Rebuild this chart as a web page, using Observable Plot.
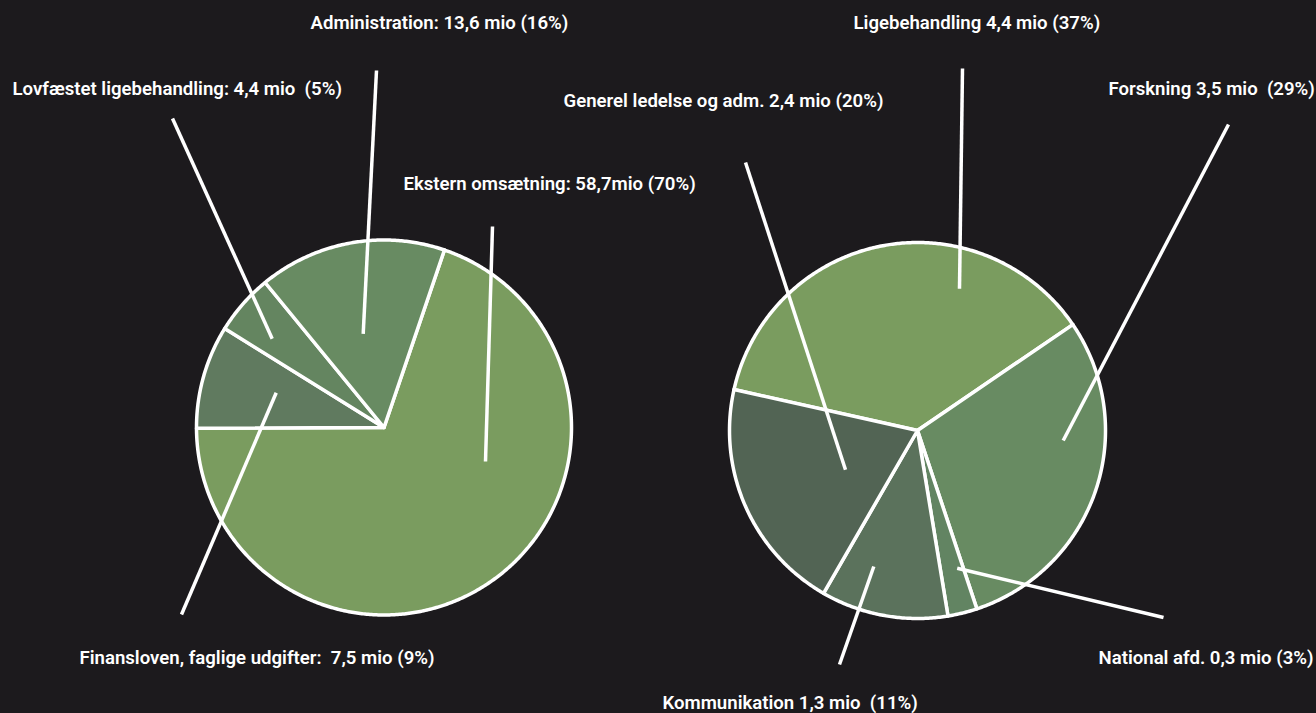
<!DOCTYPE html>
<html>
<head>
<meta charset="utf-8">
<script src="https://cdn.jsdelivr.net/npm/d3@7"></script>
<script src="https://cdn.jsdelivr.net/npm/@observablehq/plot@0.6"></script>
<style>
  html, body { margin: 0; padding: 0; background: #1c1a1d; }
  #chart svg text { white-space: pre; }
</style>
</head>
<body>
<div id="chart"></div>
<script>
// ---- Data ----
const leftCategories = ["Ekstern omsætning", "Finansloven, faglige udgifter", "Lovfæstet ligebehandling", "Administration"];
const leftValues = [58.7, 7.5, 4.4, 13.6];
const leftLabels = [
  "Ekstern omsætning: 58,7mio (70%)",
  "Finansloven, faglige udgifter:  7,5 mio (9%)",
  "Lovfæstet ligebehandling: 4,4 mio  (5%)",
  "Administration: 13,6 mio (16%)"
];

const rightCategories = ["Ligebehandling", "Forskning", "National afd.", "Kommunikation", "Generel ledelse og adm."];
const rightValues = [4.4, 3.5, 0.3, 1.3, 2.4];
const rightLabels = [
  "Ligebehandling 4,4 mio (37%)",
  "Forskning 3,5 mio  (29%)",
  "National afd. 0,3 mio (3%)",
  "Kommunikation 1,3 mio  (11%)",
  "Generel ledelse og adm. 2,4 mio (20%)"
];

// ---- Styles / layout ----
const leftColors = ["#7a9c5f", "#607a5f", "#648560", "#688b62"];
const rightColors = ["#7a9c5f", "#688b62", "#628462", "#5b725c", "#526454"];
const W = 1316, H = 713;
const deg = Math.PI / 180;
const pies = [
  {categories: leftCategories, values: leftValues, labels: leftLabels, colors: leftColors,
   cx: 383.5, cy: 427, r: 187.5, start: 18.8 * deg,
   // label: [textX, baselineY], leader: [outerX, outerY, innerX, innerY]
   labelPos: [[403, 189], [79, 663], [12, 94], [310, 28]],
   leaders: [[492, 226, 485, 461], [181, 614, 275.7, 392.3], [172, 118, 271.7, 338.3], [376, 70, 362.7, 333.3]]},
  {categories: rightCategories, values: rightValues, labels: rightLabels, colors: rightColors,
   cx: 917, cy: 430, r: 188, start: -77.4 * deg,
   labelPos: [[853, 28], [1108, 94], [1098, 663], [662, 708], [563, 106]],
   leaders: [[962, 68, 959, 288.3], [1228, 124, 1062.7, 440], [1163, 617, 956.7, 567.7], [839, 664, 873.3, 566], [745, 162, 845, 469.3]]}
];
const fontSize = 18.6;

// ---- Build geometry from data ----
const slicePts = [];
const leaderRows = [];
const labelRows = [];
pies.forEach((p, pi) => {
  const arcs = d3.pie().sort(null).startAngle(p.start).endAngle(p.start + 2 * Math.PI)(p.values);
  arcs.forEach((a, i) => {
    const key = pi + ":" + p.categories[i];
    slicePts.push({key, x: p.cx, y: p.cy});
    const steps = Math.max(2, Math.ceil((a.endAngle - a.startAngle) / (0.5 * deg)));
    for (let s = 0; s <= steps; s++) {
      const t = a.startAngle + (a.endAngle - a.startAngle) * s / steps;
      slicePts.push({key, x: p.cx + p.r * Math.sin(t), y: p.cy - p.r * Math.cos(t)});
    }
    const [x1, y1, x2, y2] = p.leaders[i];
    leaderRows.push({x1, y1, x2, y2});
    labelRows.push({x: p.labelPos[i][0], y: p.labelPos[i][1] - 0.32 * fontSize, text: p.labels[i]});
  });
});
const colorDomain = [], colorRange = [];
pies.forEach((p, pi) => p.categories.forEach((c, i) => { colorDomain.push(pi + ":" + c); colorRange.push(p.colors[i]); }));

const chart = Plot.plot({
  width: W, height: H,
  margin: 0,
  x: {domain: [0, W], range: [0, W], axis: null},
  y: {domain: [0, H], range: [0, H], axis: null},
  color: {domain: colorDomain, range: colorRange},
  style: {background: "#1c1a1d", fontFamily: "Roboto, 'Open Sans', sans-serif"},
  marks: [
    Plot.line(slicePts, {x: "x", y: "y", z: "key", fill: "key", stroke: "white", strokeWidth: 3.5,
      curve: "linear-closed", strokeLinejoin: "round"}),
    Plot.link(leaderRows, {x1: "x1", y1: "y1", x2: "x2", y2: "y2", stroke: "white", strokeWidth: 3.5, strokeLinecap: "butt"}),
    Plot.text(labelRows, {x: "x", y: "y", text: "text", textAnchor: "start", lineAnchor: "middle",
      fill: "white", fontSize, fontWeight: 600})
  ]
});
document.getElementById("chart").appendChild(chart);
</script>
</body>
</html>
